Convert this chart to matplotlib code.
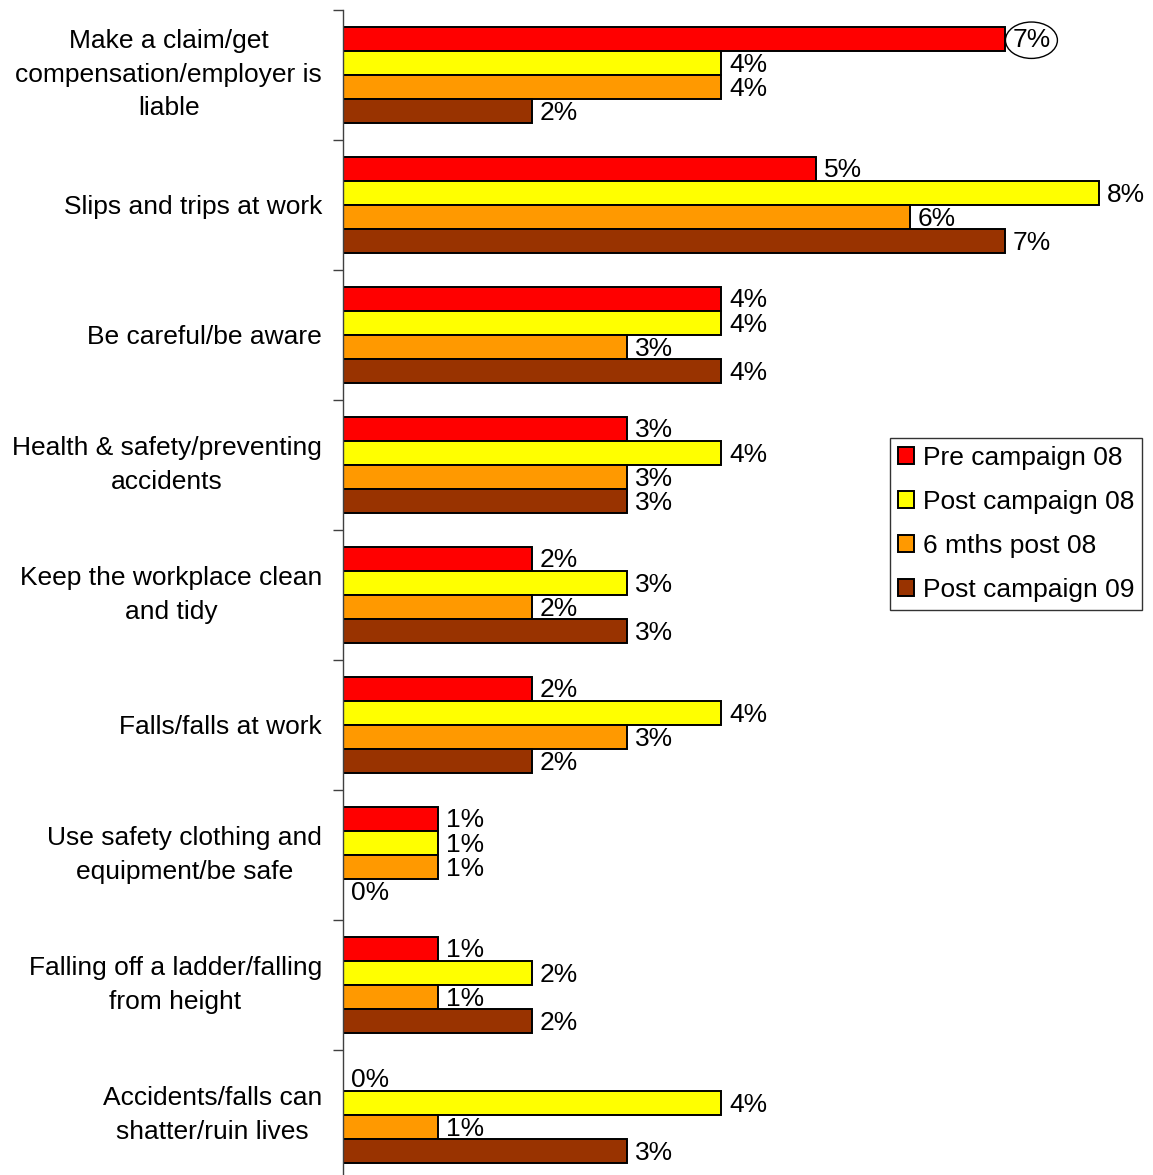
import matplotlib
matplotlib.use("Agg")
import numpy as np
from matplotlib import pyplot as plt
from matplotlib.patches import Ellipse

plt.rcParams['font.family'] = ['Liberation Sans', 'DejaVu Sans']

# Categories (top to bottom) and the four survey waves
categories = [
    "Make a claim/get\ncompensation/employer is\nliable",
    "Slips and trips at work",
    "Be careful/be aware",
    "Health & safety/preventing\naccidents",
    "Keep the workplace clean\nand tidy",
    "Falls/falls at work",
    "Use safety clothing and\nequipment/be safe",
    "Falling off a ladder/falling\nfrom height",
    "Accidents/falls can\nshatter/ruin lives",
]
series_names = ["Pre campaign 08", "Post campaign 08", "6 mths post 08", "Post campaign 09"]
pre_08 = [7, 5, 4, 3, 2, 2, 1, 1, 0]
post_08 = [4, 8, 4, 4, 3, 4, 1, 2, 4]
six_mths_08 = [4, 6, 3, 3, 2, 3, 1, 1, 1]
post_09 = [2, 7, 4, 3, 3, 2, 0, 2, 3]
colours = ["#FF0000", "#FFFF00", "#FF9900", "#993300"]

series = [pre_08, post_08, six_mths_08, post_09]

W, H = 1153, 1175
fig = plt.figure(figsize=(W / 100, H / 100), dpi=100)
left, top, right, bottom = 343, 10, 1153, 1180
ax = fig.add_axes([left / W, 1 - bottom / H, (right - left) / W, (bottom - top) / H])

px_per_pct = 94.5
ax.set_xlim(0, (right - left) / px_per_pct)
ax.set_ylim(len(categories), 0)

bar_h = 0.185
centers = np.arange(len(categories)) + 0.5
for j, (vals, name, col) in enumerate(zip(series, series_names, colours)):
    y = centers + (j - 1.5) * bar_h
    ax.barh(y, vals, height=bar_h, color=col, edgecolor="black", linewidth=1.4, label=name)
    for yy, v in zip(y, vals):
        ax.text(v + 0.085, yy + 0.012, f"{v}%", va="center", ha="left", fontsize=19)

# circle round the top value
e_x = pre_08[0] + 0.085 + 0.2
ax.add_patch(Ellipse((e_x, centers[0] - 1.5 * bar_h + 0.01), 0.55, 0.28,
                     facecolor="none", edgecolor="black", linewidth=1.0, zorder=5))

for s in ["top", "right", "bottom"]:
    ax.spines[s].set_visible(False)
ax.spines["left"].set_color("#404040")
ax.spines["left"].set_linewidth(1.0)
ax.set_xticks([])
ax.set_yticks(np.arange(len(categories) + 1))
ax.set_yticklabels([])
ax.tick_params(axis="y", which="major", length=7, width=1.0, color="#404040", direction="out")
ax.set_yticks(centers, minor=True)
ax.set_yticklabels(categories, minor=True, fontsize=19, multialignment="center", linespacing=1.5)
ax.tick_params(axis="y", which="minor", length=0, pad=15)
# multi-line labels centred on their group
for lab in ax.get_yticklabels(minor=True):
    if "\n" in lab.get_text():
        lab.set_va("center")

leg = ax.legend(loc="upper left", bbox_to_anchor=((890 - left) / (right - left), 1 - (438 - top) / (bottom - top)),
                fontsize=19, frameon=True, fancybox=False, shadow=False, handlelength=0.6,
                handleheight=0.6, handletextpad=0.35, labelspacing=0.76, borderpad=0.3,
                borderaxespad=0)
leg.get_frame().set_edgecolor("black")
leg.get_frame().set_linewidth(1.0)

fig.savefig("out.png", dpi=100)
